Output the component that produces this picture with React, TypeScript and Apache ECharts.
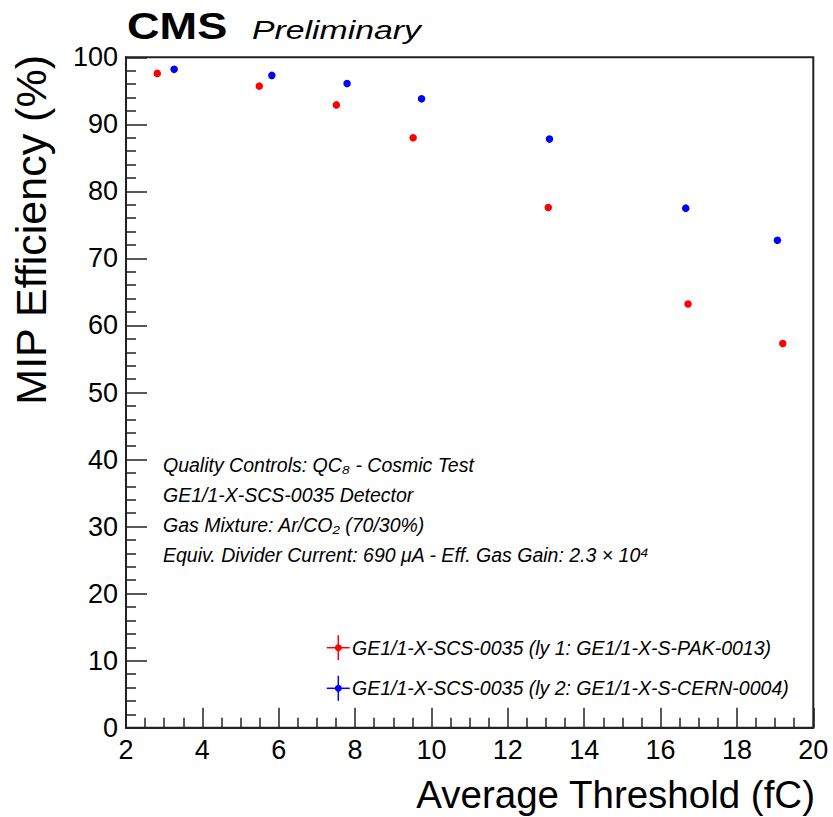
import React, { useEffect, useRef } from "react";
import * as echarts from "echarts";

// Data
const thresholdLy1 = [2.82, 5.49, 7.51, 9.52, 13.06, 16.72, 19.2];
const efficiencyLy1 = [97.6, 95.7, 92.9, 88.0, 77.6, 63.2, 57.3];
const thresholdLy2 = [3.26, 5.82, 7.79, 9.74, 13.09, 16.66, 19.06];
const efficiencyLy2 = [98.2, 97.3, 96.1, 93.8, 87.8, 77.5, 72.7];

const seriesNames = [
  "GE1/1-X-SCS-0035 (ly 1: GE1/1-X-S-PAK-0013)",
  "GE1/1-X-SCS-0035 (ly 2: GE1/1-X-S-CERN-0004)",
];
const seriesColors = ["#ff0000", "#0000ff"];

const infoLines = [
  "Quality Controls: QC\u2088 - Cosmic Test",
  "GE1/1-X-SCS-0035 Detector",
  "Gas Mixture: Ar/CO\u2082 (70/30%)",
  "Equiv. Divider Current: 690 \u03bcA - Eff. Gas Gain: 2.3 \u00d7 10\u2074",
];

const FONT = "'Liberation Sans', Arial, Helvetica, sans-serif";

export default function App() {
  const ref = useRef<HTMLDivElement>(null);

  useEffect(() => {
    if (!ref.current) return;
    const chart = echarts.init(ref.current, undefined, { renderer: "svg" });

    const pairs = (xs: number[], ys: number[]) => xs.map((x, i) => [x, ys[i]]);

    const graphics: any[] = [
      {
        type: "text",
        x: 127,
        y: 26,
        scaleX: 1.22,
        style: {
          text: "CMS",
          font: `bold 37px ${FONT}`,
          fill: "#000",
          align: "left",
          verticalAlign: "middle",
        },
      },
      {
        type: "text",
        x: 252,
        y: 30,
        scaleX: 1.3,
        style: {
          text: "Preliminary",
          font: `italic 26px ${FONT}`,
          fill: "#000",
          align: "left",
          verticalAlign: "middle",
        },
      },
      {
        type: "text",
        x: 31,
        y: 55,
        rotation: Math.PI / 2,
        style: {
          text: "MIP Efficiency (%)",
          font: `43px ${FONT}`,
          fill: "#000",
          align: "right",
          verticalAlign: "middle",
        },
      },
      {
        type: "text",
        x: 815,
        y: 794,
        style: {
          text: "Average Threshold (fC)",
          font: `38.5px ${FONT}`,
          fill: "#000",
          align: "right",
          verticalAlign: "middle",
        },
      },
    ];

    infoLines.forEach((t, i) => {
      graphics.push({
        type: "text",
        x: 163,
        y: 464.5 + i * 30.3,
        style: {
          text: t,
          font: `italic 19.5px ${FONT}`,
          fill: "#000",
          align: "left",
          verticalAlign: "middle",
        },
      });
    });

    const legendY = [647.7, 688.3];
    seriesNames.forEach((name, i) => {
      const cy = legendY[i];
      const cx = 338.3;
      const color = seriesColors[i];
      graphics.push(
        {
          type: "line",
          shape: { x1: cx - 11.5, y1: cy, x2: cx + 11.5, y2: cy },
          style: { stroke: color, lineWidth: 1.5 },
        },
        {
          type: "line",
          shape: { x1: cx, y1: cy - 12.5, x2: cx, y2: cy + 12.5 },
          style: { stroke: color, lineWidth: 1.5 },
        },
        {
          type: "circle",
          shape: { cx, cy, r: 3.5 },
          style: { fill: color },
        },
        {
          type: "text",
          x: 352,
          y: cy,
          style: {
            text: name,
            font: `italic 19.5px ${FONT}`,
            fill: "#000",
            align: "left",
            verticalAlign: "middle",
          },
        }
      );
    });

    chart.setOption({
      animation: false,
      backgroundColor: "#ffffff",
      grid: {
        left: 126,
        top: 57.3,
        right: 833 - 813.3,
        bottom: 817 - 727.7,
        show: true,
        borderColor: "#222",
        borderWidth: 2,
        backgroundColor: "transparent",
      },
      xAxis: {
        type: "value",
        min: 2,
        max: 20,
        interval: 2,
        axisLine: { show: true, onZero: false, lineStyle: { color: "#222", width: 2 } },
        axisTick: { show: true, inside: true, length: 20, lineStyle: { color: "#222", width: 1.5 } },
        minorTick: { show: true, splitNumber: 4, length: 10, lineStyle: { color: "#222", width: 1.5 } },
        splitLine: { show: false },
        axisLabel: {
          color: "#000",
          fontSize: 27,
          fontFamily: FONT,
          margin: 9,
          showMinLabel: true,
          showMaxLabel: true,
        },
      },
      yAxis: {
        type: "value",
        min: 0,
        max: 100,
        interval: 10,
        axisLine: { show: true, onZero: false, lineStyle: { color: "#222", width: 2 } },
        axisTick: { show: true, inside: true, length: 21, lineStyle: { color: "#222", width: 1.5 } },
        minorTick: { show: true, splitNumber: 5, length: 10, lineStyle: { color: "#222", width: 1.5 } },
        splitLine: { show: false },
        axisLabel: {
          color: "#000",
          fontSize: 27,
          fontFamily: FONT,
          margin: 8,
          showMinLabel: true,
          showMaxLabel: true,
        },
      },
      series: [
        {
          name: seriesNames[0],
          type: "scatter",
          symbol: "circle",
          symbolSize: 7.5,
          itemStyle: { color: seriesColors[0], opacity: 1 },
          data: pairs(thresholdLy1, efficiencyLy1),
        },
        {
          name: seriesNames[1],
          type: "scatter",
          symbol: "circle",
          symbolSize: 7.5,
          itemStyle: { color: seriesColors[1], opacity: 1 },
          data: pairs(thresholdLy2, efficiencyLy2),
        },
      ],
      graphic: graphics,
    });

    return () => chart.dispose();
  }, []);

  return (
    <div
      ref={ref}
      style={{ position: "fixed", left: 0, top: 0, width: 833, height: 817, background: "#fff" }}
    />
  );
}
